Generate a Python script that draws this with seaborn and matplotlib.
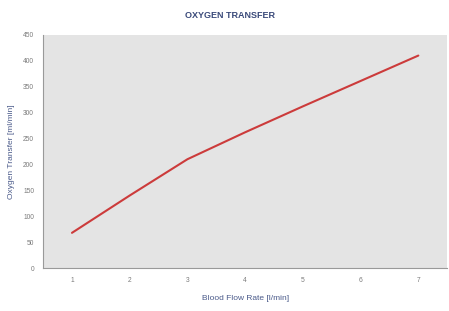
import pandas as pd
import matplotlib
matplotlib.use("Agg")
import matplotlib.pyplot as plt
import seaborn as sns

flow_rate = [1, 2, 3, 4, 5, 6, 7]
oxygen = [68, 140, 210, 262, 312, 361, 410]
yticks = [0, 50, 100, 150, 200, 250, 300, 350, 400, 450]

df = pd.DataFrame({"flow": flow_rate, "oxygen": oxygen})

sns.set_style("white")
plt.rcParams['font.family'] = ['Liberation Sans', 'DejaVu Sans']

fig = plt.figure(figsize=(4.49, 3.11), dpi=100)
ax = fig.add_axes([0.096, 0.138, 0.9, 0.75])
ax.set_facecolor("#e4e4e4")

sns.lineplot(data=df, x="flow", y="oxygen", ax=ax, color="#cc3b3b", linewidth=1.5)

ax.set_xlim(0.5, 7.5)
ax.set_ylim(0, 450)
ax.set_xticks(flow_rate)
ax.set_yticks(yticks)
ax.tick_params(axis="both", labelsize=4.8, colors="#7a7a7a", length=3, width=0.6, direction="out")
for s in ["top", "right"]:
    ax.spines[s].set_visible(False)
for s in ["left", "bottom"]:
    ax.spines[s].set_color("#999999")
    ax.spines[s].set_linewidth(0.8)

ax.set_xlabel("Blood Flow Rate [l/min]", fontsize=6, color="#4a5a8a", labelpad=8)
ax.set_ylabel("Oxygen Transfer [ml/min]", fontsize=6, color="#4a5a8a", labelpad=6)
fig.text(0.513, 0.95, "OXYGEN TRANSFER", ha="center", va="center",
         fontsize=6.5, fontweight="bold", color="#3a4a7a")

fig.savefig("out.png", dpi=100)
